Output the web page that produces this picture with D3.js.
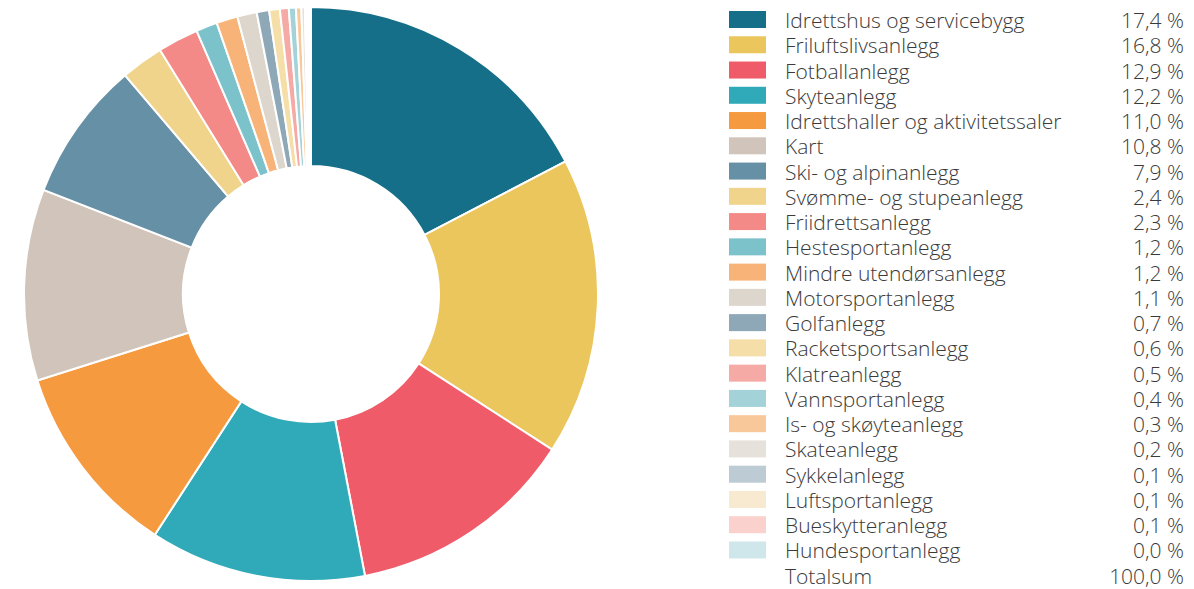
<!DOCTYPE html>
<html>
<head>
<meta charset="utf-8">
<script src="https://cdn.jsdelivr.net/npm/d3@7"></script>
<style>
  body { margin: 0; background: #fff; }
  svg text { font-family: "Open Sans", sans-serif; }
</style>
</head>
<body>
<svg id="chart" width="1194" height="589"></svg>
<script>
// categories and shares (%)
var categories = ['Idrettshus og servicebygg', 'Friluftslivsanlegg', 'Fotballanlegg', 'Skyteanlegg',
    'Idrettshaller og aktivitetssaler', 'Kart', 'Ski- og alpinanlegg', 'Svømme- og stupeanlegg',
    'Friidrettsanlegg', 'Hestesportanlegg', 'Mindre utendørsanlegg', 'Motorsportanlegg', 'Golfanlegg',
    'Racketsportsanlegg', 'Klatreanlegg', 'Vannsportanlegg', 'Is- og skøyteanlegg', 'Skateanlegg',
    'Sykkelanlegg', 'Luftsportanlegg', 'Bueskytteranlegg', 'Hundesportanlegg'];
var shares = [17.4, 16.8, 12.9, 12.2, 11.0, 10.8, 7.9, 2.4, 2.3, 1.2, 1.2, 1.1, 0.7, 0.6, 0.5, 0.4, 0.3, 0.2, 0.1, 0.1, 0.1, 0.04];
var labels = ['17,4 %', '16,8 %', '12,9 %', '12,2 %', '11,0 %', '10,8 %', '7,9 %', '2,4 %', '2,3 %', '1,2 %', '1,2 %',
    '1,1 %', '0,7 %', '0,6 %', '0,5 %', '0,4 %', '0,3 %', '0,2 %', '0,1 %', '0,1 %', '0,1 %', '0,0 %'];
var colors = ['#156f89', '#ebc65d', '#ef5b68', '#30aab8', '#f59a3e', '#d0c4bb', '#6690a5', '#f0d48c',
    '#f38a87', '#7cc2cb', '#f8b478', '#dcd6cc', '#8ea8b8', '#f5dea8', '#f6aaa5', '#a3d3d8',
    '#f9c89a', '#e6e1db', '#bccbd4', '#f8ead0', '#fad1cd', '#cfe6ea'];
var totalLabel = 'Totalsum';
var totalValue = '100,0 %';

var data = categories.map(function(c, i) { return { name: c, value: shares[i], label: labels[i] }; });

var svg = d3.select('#chart');
var color = d3.scaleOrdinal().domain(categories).range(colors);

// donut
var g = svg.append('g').attr('transform', 'translate(311,294)');
var pie = d3.pie().sort(null).value(function(d) { return d.value; });
var arc = d3.arc().innerRadius(128).outerRadius(287);

g.selectAll('path')
    .data(pie(data))
    .enter().append('path')
    .attr('d', arc)
    .attr('fill', function(d) { return color(d.data.name); })
    .attr('stroke', '#fff')
    .attr('stroke-width', 2);

// legend
var y = d3.scaleBand().domain(d3.range(categories.length + 1)).range([8, 589]).paddingInner(0);
var fs = 21;

var rows = svg.append('g').selectAll('g.row')
    .data(data)
    .enter().append('g')
    .attr('class', 'row')
    .attr('transform', function(d, i) { return 'translate(0,' + y(i) + ')'; });

rows.append('rect')
    .attr('x', 729)
    .attr('y', 3)
    .attr('width', 37)
    .attr('height', 17)
    .attr('fill', function(d) { return color(d.name); });

rows.append('text')
    .attr('x', 785)
    .attr('y', 20)
    .attr('font-size', fs)
    .attr('font-weight', 300)
    .attr('fill', '#3a3a3a')
    .text(function(d) { return d.name; });

rows.append('text')
    .attr('x', 1184)
    .attr('y', 20)
    .attr('text-anchor', 'end')
    .attr('font-size', fs)
    .attr('font-weight', 300)
    .attr('fill', '#3a3a3a')
    .text(function(d) { return d.label; });

var tot = svg.append('g').attr('transform', 'translate(0,' + y(categories.length) + ')');
tot.append('text').attr('x', 785).attr('y', 20).attr('font-size', fs).attr('font-weight', 300)
    .attr('fill', '#3a3a3a').text(totalLabel);
tot.append('text').attr('x', 1184).attr('y', 20).attr('text-anchor', 'end').attr('font-size', fs)
    .attr('font-weight', 300).attr('fill', '#3a3a3a').text(totalValue);
</script>
</body>
</html>
